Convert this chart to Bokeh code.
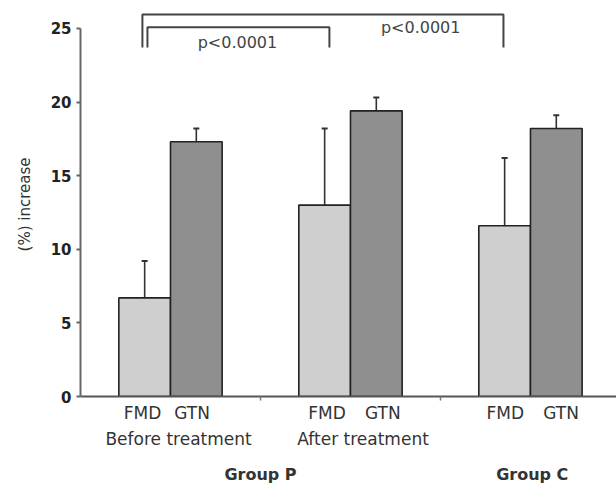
from bokeh.plotting import figure
from bokeh.models import ColumnDataSource, LinearAxis, FixedTicker, Range1d
from bokeh.embed import file_html
from bokeh.resources import INLINE
from bokeh.core.properties import value

# ---- data ----
group_centers = [0.5, 1.5, 2.5]
fmd_mean = [6.7, 13.0, 11.6]
fmd_sd = [2.5, 5.2, 4.6]
gtn_mean = [17.3, 19.4, 18.2]
gtn_sd = [0.9, 0.9, 0.9]
measure_labels = ["FMD", "GTN", "FMD", "GTN", "FMD", "GTN"]
treatment_labels = ["Before treatment", "After treatment"]
group_labels = ["Group P", "Group C"]
y_ticks = [0, 5, 10, 15, 20, 25]
p_texts = ["p<0.0001", "p<0.0001"]

# ---- layout / style ----
BAR_W = 0.287
OFF = BAR_W / 2
FONT = "DejaVu Sans"

p = figure(width=616, height=486, output_backend="svg", toolbar_location=None,
           x_range=Range1d(0, 2.978), y_range=Range1d(0, 26.08),
           min_border_left=80, min_border_right=0, min_border_top=12, min_border_bottom=0,
           x_axis_type=None, y_axis_type=None)
p.outline_line_color = None
p.xgrid.visible = False
p.ygrid.visible = False
p.background_fill_color = "white"

fmd_x = [g - OFF for g in group_centers]
gtn_x = [g + OFF for g in group_centers]

src_fmd = ColumnDataSource(dict(x=fmd_x, top=fmd_mean,
                                etop=[m + s for m, s in zip(fmd_mean, fmd_sd)]))
src_gtn = ColumnDataSource(dict(x=gtn_x, top=gtn_mean,
                                etop=[m + s for m, s in zip(gtn_mean, gtn_sd)]))

for src, col in ((src_fmd, "#cfcfcf"), (src_gtn, "#8f8f8f")):
    p.segment(x0="x", y0="top", x1="x", y1="etop", source=src,
              line_color="#333333", line_width=1.6)
    p.scatter(x="x", y="etop", source=src, marker="dash", size=6,
              line_color="#333333", line_width=2)
    p.vbar(x="x", top="top", bottom=0, width=BAR_W, source=src,
           fill_color=col, line_color="#222222", line_width=1.6)

# significance brackets
br_xs = [[0.372, 0.372, 1.383, 1.383], [0.344, 0.344, 2.35, 2.35]]
br_ys = [[23.7, 25.07, 25.07, 23.7], [23.7, 25.95, 25.95, 23.7]]
p.multi_line(xs=br_xs, ys=br_ys, line_color="#444444", line_width=2)
p.text(x=[0.872, 1.89], y=[24.05, 25.05], text=p_texts,
       text_font=value(FONT), text_font_size="16px", text_color="#444444",
       text_align="center", text_baseline="middle")

# y axis
yax = LinearAxis(ticker=FixedTicker(ticks=y_ticks), bounds=(0, 25))
yax.axis_label = "(%) increase"
yax.axis_label_text_font = FONT
yax.axis_label_text_font_size = "15px"
yax.axis_label_text_font_style = "normal"
yax.axis_label_text_color = "#333333"
yax.axis_label_standoff = 14
yax.major_label_text_font = FONT
yax.major_label_text_font_size = "15px"
yax.major_label_text_font_style = "bold"
yax.major_label_text_color = "#222222"
yax.major_label_standoff = 5
yax.axis_line_color = "#666666"
yax.axis_line_width = 2
yax.major_tick_line_color = "#666666"
yax.major_tick_line_width = 2
yax.major_tick_out = 4
yax.major_tick_in = 0
yax.minor_tick_line_color = None
p.add_layout(yax, "left")

# x axis row 1: line, separators, FMD/GTN
meas_pos = [0.345, 0.62, 1.37, 1.68, 2.36, 2.67]
ax1 = LinearAxis(ticker=FixedTicker(ticks=meas_pos, minor_ticks=[1, 2]))
ax1.major_label_overrides = {t: l for t, l in zip(meas_pos, measure_labels)}
ax1.major_label_text_font = FONT
ax1.major_label_text_font_size = "17px"
ax1.major_label_text_color = "#333333"
ax1.major_label_standoff = 2
ax1.axis_line_color = "#555555"
ax1.axis_line_width = 2
ax1.major_tick_line_color = None
ax1.major_tick_out = 0
ax1.major_tick_in = 0
ax1.minor_tick_line_color = "#777777"
ax1.minor_tick_line_width = 1.5
ax1.minor_tick_out = 4
ax1.minor_tick_in = 0
p.add_layout(ax1, "below")

# x axis row 2: treatment
treat_pos = [0.545, 1.57]
ax2 = LinearAxis(ticker=FixedTicker(ticks=treat_pos, minor_ticks=[]))
ax2.major_label_overrides = {t: l for t, l in zip(treat_pos, treatment_labels)}
ax2.major_label_text_font = FONT
ax2.major_label_text_font_size = "17px"
ax2.major_label_text_color = "#333333"
ax2.major_label_standoff = 3
ax2.axis_line_color = None
ax2.major_tick_line_color = None
ax2.minor_tick_line_color = None
ax2.major_tick_out = 0
ax2.major_tick_in = 0
p.add_layout(ax2, "below")

# x axis row 3: groups
grp_pos = [1.0, 2.51]
ax3 = LinearAxis(ticker=FixedTicker(ticks=grp_pos, minor_ticks=[]))
ax3.major_label_overrides = {t: l for t, l in zip(grp_pos, group_labels)}
ax3.major_label_text_font = FONT
ax3.major_label_text_font_size = "16px"
ax3.major_label_text_font_style = "bold"
ax3.major_label_text_color = "#333333"
ax3.major_label_standoff = 13
ax3.axis_line_color = None
ax3.major_tick_line_color = None
ax3.minor_tick_line_color = None
ax3.major_tick_out = 0
ax3.major_tick_in = 0
p.add_layout(ax3, "below")

open("out.html", "w").write(file_html(p, INLINE))
